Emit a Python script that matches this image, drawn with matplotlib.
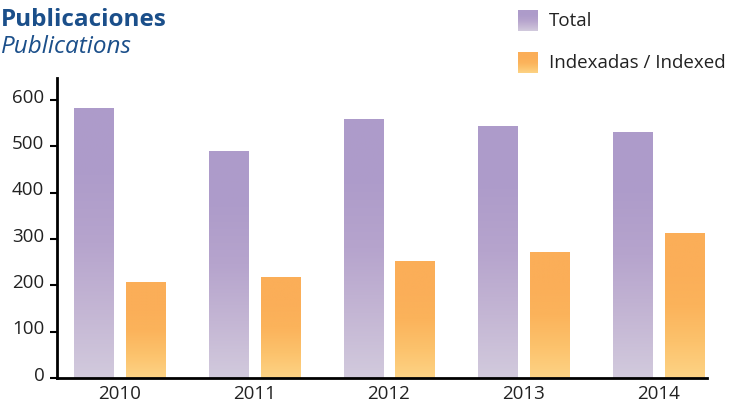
import numpy as np
import matplotlib.pyplot as plt
import matplotlib.transforms as mtransforms
from matplotlib.colors import LinearSegmentedColormap

# datos
years = ['2010', '2011', '2012', '2013', '2014']
total = [582, 488, 557, 544, 529]
indexadas = [207, 216, 252, 272, 313]

plt.rcParams['font.family'] = ['Open Sans', 'DejaVu Sans']

# gradientes (abajo -> arriba)
cmap_total = LinearSegmentedColormap.from_list('tot', ['#d2cadd', '#c4b6d4', '#b6a4cd', '#ae9cca', '#ad9bca'])
cmap_idx = LinearSegmentedColormap.from_list('idx', ['#fdd385', '#fcc26c', '#fbb35b', '#fbae58', '#fbae58'])
grad = np.linspace(0, 1, 256).reshape(-1, 1)

fig = plt.figure(figsize=(7.29, 4.05), dpi=100)
ax = fig.add_axes([0.078, 0.067, 0.892, 0.74])

x = np.arange(len(years))
w = 0.29
off = 0.193


def gradient_bars(bars, cmap):
    for b in bars:
        x0, y0 = b.get_x(), b.get_y()
        x1, y1 = x0 + b.get_width(), y0 + b.get_height()
        b.set_facecolor('none')
        b.set_edgecolor('none')
        ax.imshow(grad, cmap=cmap, origin='lower', extent=[x0, x1, y0, y1],
                  aspect='auto', zorder=1, interpolation='bilinear')


bars_t = ax.bar(x - off, total, width=w)
bars_i = ax.bar(x + off, indexadas, width=w)
gradient_bars(bars_t, cmap_total)
gradient_bars(bars_i, cmap_idx)

ax.set_xlim(-0.468, 4.364)
ax.set_ylim(0, 647)
ax.set_xticks(x)
ax.set_xticklabels(years, fontsize=13.5, color='#222222')
ax.set_yticks([0, 100, 200, 300, 400, 500, 600])
ax.tick_params(axis='y', labelsize=13.5, labelcolor='#222222', length=5, width=1.5, pad=4)
ax.tick_params(axis='x', length=0, pad=5)

# etiquetas del eje y un poco por encima de la marca
shift = mtransforms.ScaledTranslation(0, 3 / 72, fig.dpi_scale_trans)
for lbl in ax.get_yticklabels():
    lbl.set_transform(lbl.get_transform() + shift)

for s in ['top', 'right']:
    ax.spines[s].set_visible(False)
for s in ['left', 'bottom']:
    ax.spines[s].set_linewidth(2)
    ax.spines[s].set_color('black')

# titulo
fig.text(0.001, 0.936, 'Publicaciones', fontsize=17.5, fontweight='bold', color='#1b4f8a', va='baseline')
fig.text(0.001, 0.869, 'Publications', fontsize=17.5, style='italic', color='#1b4f8a', va='baseline')

# leyenda
for (ytop, cmap, label) in [(10, cmap_total, 'Total'), (52, cmap_idx, 'Indexadas / Indexed')]:
    lax = fig.add_axes([518 / 729, (405 - ytop - 21) / 405, 20 / 729, 21 / 405])
    lax.imshow(grad, cmap=cmap, origin='lower', aspect='auto')
    lax.axis('off')
    fig.text(549 / 729, (405 - ytop - 11) / 405, label, fontsize=13.5, color='#222222', va='center')

plt.savefig('out.png', dpi=100)
